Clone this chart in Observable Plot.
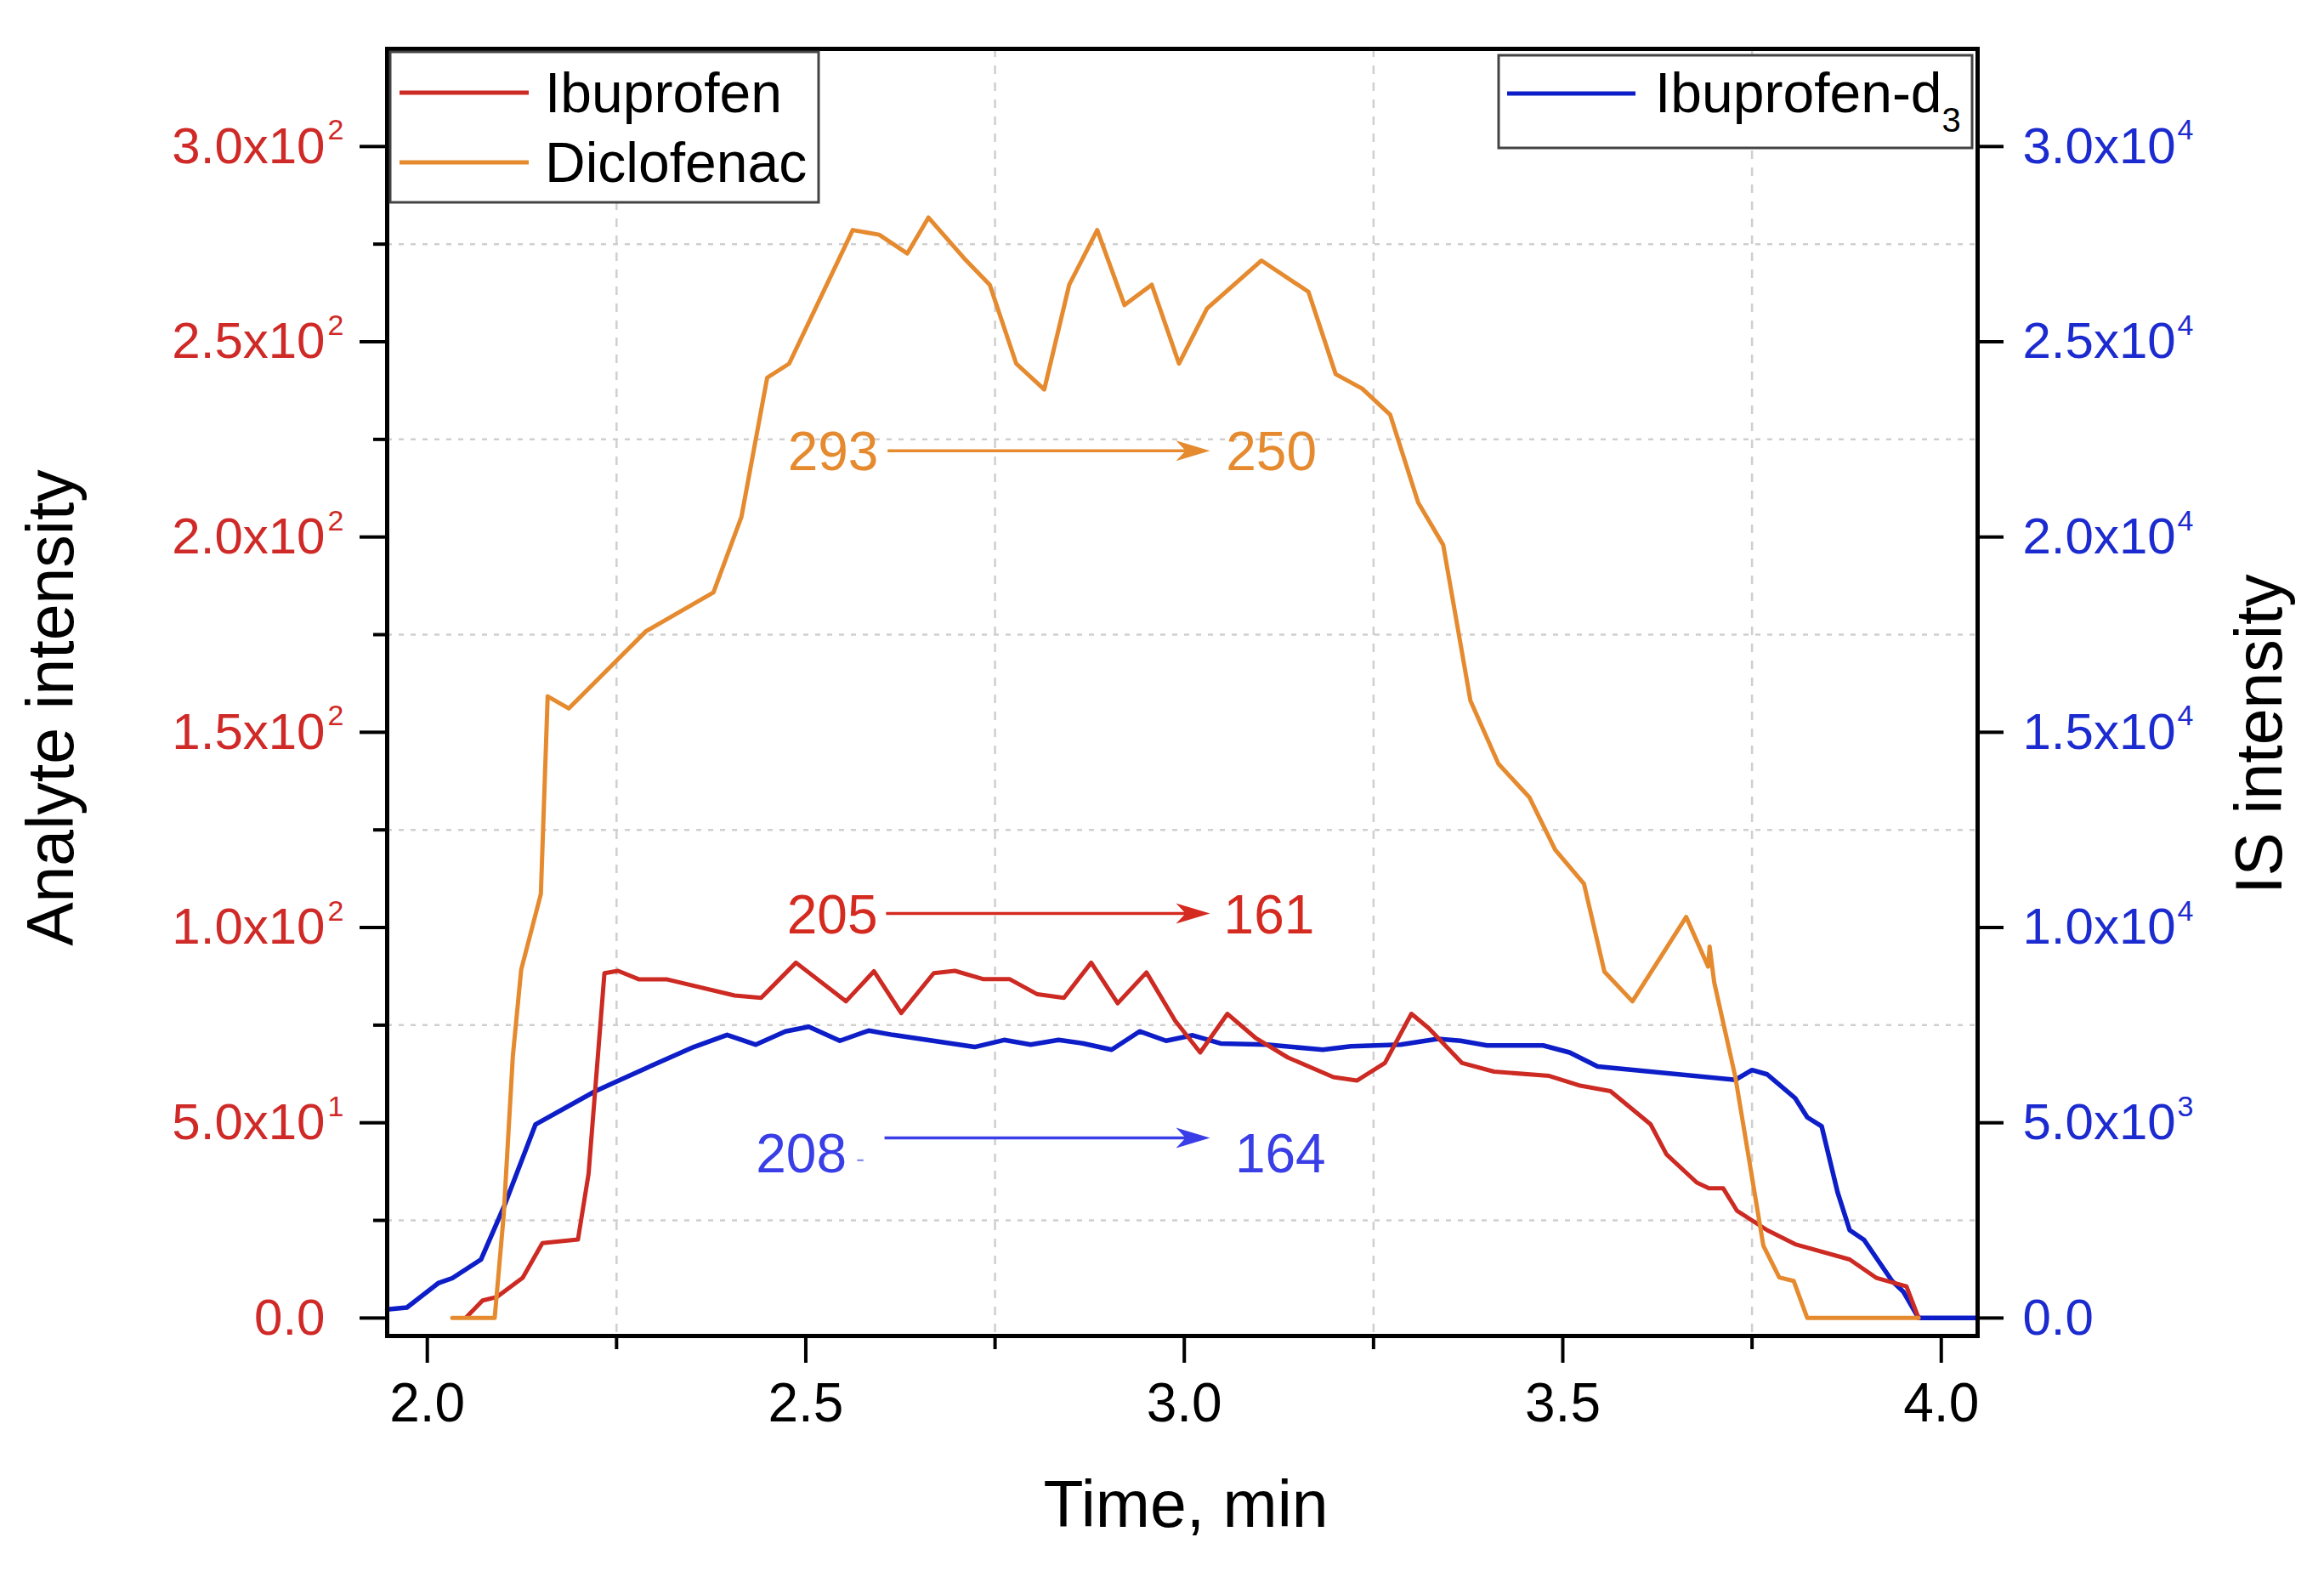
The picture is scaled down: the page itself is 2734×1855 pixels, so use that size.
<!DOCTYPE html>
<html>
<head>
<meta charset="utf-8">
<script src="https://cdn.jsdelivr.net/npm/d3@7"></script>
<script src="https://cdn.jsdelivr.net/npm/@observablehq/plot@0.6"></script>
<style>
  html, body { margin: 0; padding: 0; background: #ffffff; overflow: hidden; }
</style>
</head>
<body>
<div id="chart"></div>
<script>
// ---------------- data ----------------
const ibuTime = [2.052,2.073,2.092,2.126,2.152,2.199,2.213,2.234,2.252,2.280,2.317,2.406,2.441,2.487,2.553,2.590,2.626,2.669,2.697,2.734,2.769,2.806,2.841,2.877,2.912,2.950,2.988,3.021,3.057,3.095,3.137,3.197,3.228,3.265,3.300,3.323,3.367,3.409,3.482,3.523,3.563,3.616,3.637,3.677,3.693,3.712,3.730,3.770,3.807,3.879,3.914,3.954,3.970];
const ibuVals = [0.3,4.5,5.4,10.3,19.2,20.1,36.9,88.3,88.9,86.7,86.7,82.6,82.0,91.0,81.1,88.8,78.1,88.3,88.9,86.8,86.8,82.9,82.0,91.0,80.6,88.5,76.1,68.0,77.9,71.6,66.7,61.7,60.8,65.3,77.9,74.2,65.3,63.1,62.0,59.5,58.1,49.6,41.9,34.7,33.2,33.2,27.5,22.5,18.9,15.0,10.3,8.1,0];

const dicTime = [2.033,2.089,2.101,2.113,2.124,2.150,2.159,2.187,2.289,2.378,2.415,2.449,2.478,2.562,2.597,2.634,2.662,2.709,2.743,2.778,2.815,2.848,2.885,2.921,2.957,2.993,3.030,3.102,3.164,3.200,3.235,3.272,3.309,3.342,3.378,3.415,3.456,3.490,3.528,3.555,3.592,3.663,3.692,3.694,3.700,3.728,3.765,3.786,3.805,3.823,3.970];
const dicVals = [0,0,26.6,67.1,89.2,108.6,159.2,156.1,175.9,185.8,205.2,240.8,244.4,278.6,277.4,272.6,281.8,271.4,264.6,244.4,237.8,264.6,278.6,259.4,264.6,244.4,258.5,270.8,262.8,241.7,238.0,231.3,208.8,198.0,158.1,141.9,133.3,119.9,111.2,88.7,81.1,102.7,90.0,95.1,86.0,61.7,18.5,10.4,9.5,0,0];

const isTime = [1.947,1.973,2.015,2.033,2.071,2.101,2.143,2.222,2.289,2.352,2.396,2.434,2.473,2.504,2.545,2.583,2.615,2.723,2.762,2.797,2.834,2.867,2.904,2.941,2.976,3.011,3.048,3.109,3.183,3.220,3.286,3.335,3.365,3.400,3.474,3.509,3.546,3.728,3.750,3.770,3.807,3.823,3.842,3.863,3.879,3.898,3.935,3.950,3.970,4.048];
const isVals = [220,270,900,1020,1500,2840,4960,5810,6400,6940,7250,7000,7340,7460,7100,7360,7250,6940,7120,7000,7120,7030,6870,7340,7100,7240,7030,7000,6870,6960,7000,7150,7100,6980,6980,6800,6440,6100,6350,6240,5630,5140,4910,3220,2250,2000,950,670,0,0];

// axes ticks and labels
const xMajorTicks = [2.0, 2.5, 3.0, 3.5, 4.0];
const xMinorTicks = [2.25, 2.75, 3.25, 3.75];
const yMajorTicks = [0, 50, 100, 150, 200, 250, 300];
const yMinorTicks = [25, 75, 125, 175, 225, 275];
const leftMantissa = ["0.0", "5.0x10", "1.0x10", "1.5x10", "2.0x10", "2.5x10", "3.0x10"];
const leftExponent = ["", "1", "2", "2", "2", "2", "2"];
const rightMantissa = ["0.0", "5.0x10", "1.0x10", "1.5x10", "2.0x10", "2.5x10", "3.0x10"];
const rightExponent = ["", "3", "4", "4", "4", "4", "4"];
const isScaleFactor = 100; // right axis = left axis x 100

// legend
const leftLegendNames = ["Ibuprofen", "Diclofenac"];
const rightLegendName = "Ibuprofen-d";
const rightLegendSub = "3";

// annotations (retention shift)
const annoSeries = ["Diclofenac", "Ibuprofen", "Ibuprofen-d3"];
const annoStartLabel = ["293", "205", "208"];
const annoEndLabel = ["250", "161", "164"];
const annoStartT = [2.536, 2.535, 2.494];
const annoEndT = [3.115, 3.112, 3.127];
const annoTextV = [221.6, 103.0, 41.7];
const arrowFromT = [2.608, 2.606, 2.604];
const arrowToT = [3.034, 3.034, 3.034];
const arrowV = [222.1, 103.6, 46.1];

// ---------------- styles ----------------
const RED = "#cc2a22", ORANGE = "#e58a2e", BLUE = "#0d1ec8";
const RED_TXT = "#cf2a27", BLUE_TXT = "#1c2bd0";
const ANNO_COL = [ORANGE, "#d42a20", "#3a3ee6"];
const FONT = "'Liberation Sans', Arial, sans-serif";

// ---------------- build tables ----------------
const ibuData = ibuTime.map((t, i) => ({t, v: ibuVals[i]}));
const dicData = dicTime.map((t, i) => ({t, v: dicVals[i]}));
const isData = isTime.map((t, i) => ({t, v: isVals[i]}));
const leftMant = new Map(yMajorTicks.map((d, i) => [d, leftMantissa[i]]));
const leftExp = new Map(yMajorTicks.map((d, i) => [d, leftExponent[i]]));
const rightMant = new Map(yMajorTicks.map((d, i) => [d, rightMantissa[i]]));
const rightExp = new Map(yMajorTicks.map((d, i) => [d, rightExponent[i]]));
const annos = annoSeries.map((s, i) => ({
  s, color: ANNO_COL[i], a: annoStartLabel[i], b: annoEndLabel[i],
  ta: annoStartT[i], tb: annoEndT[i], tv: annoTextV[i],
  from: arrowFromT[i], to: arrowToT[i], v: arrowV[i]
}));

const stealth = {
  draw(ctx) {
    const L = 40, W = 12;
    ctx.moveTo(0, 0);
    ctx.lineTo(-L, -W);
    ctx.lineTo(-L * 0.72, 0);
    ctx.lineTo(-L, W);
    ctx.closePath();
  }
};

const annoMarks = annos.flatMap(a => [
  Plot.link([a], {x1: "from", x2: d => d.to - 0.02, y1: "v", y2: "v", stroke: a.color, strokeWidth: 3.5}),
  Plot.dot([a], {x: "to", y: "v", symbol: stealth, fill: a.color, stroke: "none", r: 10}),
  Plot.text([a], {x: "ta", y: "tv", text: "a", fill: a.color, fontSize: 64}),
  Plot.text([a], {x: "tb", y: "tv", text: "b", fill: a.color, fontSize: 64})
]);

function legend(index, scales, values, dims) {
  const L = dims.marginLeft, T = dims.marginTop, R = dims.width - dims.marginRight;
  const g = d3.create("svg:g").attr("font-family", FONT).attr("text-anchor", "start");
  // left legend
  g.append("rect").attr("x", L + 4).attr("y", T + 4).attr("width", 504).attr("height", 177)
    .attr("fill", "white").attr("stroke", "#444").attr("stroke-width", 3);
  const cols = [RED, ORANGE];
  leftLegendNames.forEach((n, i) => {
    const y = T + 52 + i * 82;
    g.append("line").attr("x1", L + 15).attr("x2", L + 167).attr("y1", y).attr("y2", y)
      .attr("stroke", cols[i]).attr("stroke-width", 5);
    g.append("text").attr("x", L + 186).attr("y", y + 23).attr("font-size", 66)
      .attr("text-anchor", "start").attr("fill", "black").text(n);
  });
  // right legend
  g.append("rect").attr("x", R - 563).attr("y", T + 8).attr("width", 557).attr("height", 109)
    .attr("fill", "white").attr("stroke", "#444").attr("stroke-width", 3);
  g.append("line").attr("x1", R - 553).attr("x2", R - 402).attr("y1", T + 53).attr("y2", T + 53)
    .attr("stroke", BLUE).attr("stroke-width", 5);
  const t = g.append("text").attr("x", R - 379).attr("y", T + 75).attr("font-size", 66)
    .attr("text-anchor", "start").attr("fill", "black");
  t.append("tspan").text(rightLegendName);
  t.append("tspan").attr("dy", 23).attr("font-size", 40).text(rightLegendSub);
  return g.node();
}

const chart = Plot.plot({
  width: 2734,
  height: 1855,
  marginLeft: 455,
  marginRight: 408,
  marginTop: 57,
  marginBottom: 284,
  x: {domain: [1.947, 4.048]},
  y: {domain: [-4.6, 325]},
  style: {fontFamily: FONT, fontSize: "60px", background: "white", color: "black"},
  marks: [
    Plot.gridY(yMinorTicks, {stroke: "#cfcfcf", strokeOpacity: 1, strokeWidth: 2.5, strokeDasharray: "6,8"}),
    Plot.gridX(xMinorTicks, {stroke: "#cfcfcf", strokeOpacity: 1, strokeWidth: 2.5, strokeDasharray: "10,10"}),
    Plot.line(isData, {x: "t", y: d => d.v / isScaleFactor, stroke: BLUE, strokeWidth: 5.5}),
    Plot.line(ibuData, {x: "t", y: "v", stroke: RED, strokeWidth: 5}),
    Plot.line(dicData, {x: "t", y: "v", stroke: ORANGE, strokeWidth: 5}),
    ...annoMarks,
    Plot.text([{t: 2.572, v: 40.8}], {x: "t", y: "v", text: () => "-", fill: "#8a8cf0", fontSize: 30}),
    // x axis
    Plot.axisX(xMajorTicks, {anchor: "bottom", tickSize: 32, tickPadding: 23, strokeWidth: 4, tickFormat: d3.format(".1f"), fontSize: 64, fill: "black", label: null}),
    Plot.axisX(xMinorTicks, {anchor: "bottom", tickSize: 16, strokeWidth: 4, tickFormat: () => "", label: null}),
    // left y axis
    Plot.axisY(yMajorTicks, {anchor: "left", tickSize: 32, tickPadding: 41, strokeWidth: 4, tickFormat: d => leftMant.get(d), fill: RED_TXT, fontSize: 60, label: null}),
    Plot.axisY(yMinorTicks, {anchor: "left", tickSize: 16, strokeWidth: 4, tickFormat: () => "", label: null}),
    Plot.text(yMajorTicks, {y: d => d, text: d => leftExp.get(d), frameAnchor: "left", dx: -70, dy: -8, lineAnchor: "bottom", textAnchor: "start", fontSize: 34, fill: RED_TXT}),
    // right y axis
    Plot.axisY(yMajorTicks, {anchor: "right", tickSize: 30, tickPadding: 23, strokeWidth: 4, tickFormat: d => rightMant.get(d), fill: BLUE_TXT, fontSize: 60, label: null}),
    Plot.text(yMajorTicks, {y: d => d, text: d => rightExp.get(d), frameAnchor: "right", dx: 235, dy: -8, lineAnchor: "bottom", textAnchor: "start", fontSize: 34, fill: BLUE_TXT}),
    // axis titles
    Plot.text(["Analyte intensity"], {text: d => d, frameAnchor: "left", dx: -370, dy: 18, rotate: -90, textAnchor: "middle", lineAnchor: "bottom", fontSize: 77, fill: "black"}),
    Plot.text(["IS intensity"], {text: d => d, frameAnchor: "right", dx: 357, dy: 49, rotate: -90, textAnchor: "middle", lineAnchor: "bottom", fontSize: 77, fill: "black"}),
    Plot.text(["Time, min"], {text: d => d, frameAnchor: "bottom", dx: 4, dy: 224, textAnchor: "middle", lineAnchor: "bottom", fontSize: 77, fill: "black"}),
    Plot.frame({stroke: "black", strokeWidth: 5}),
    legend
  ]
});
document.getElementById("chart").appendChild(chart);
</script>
</body>
</html>
